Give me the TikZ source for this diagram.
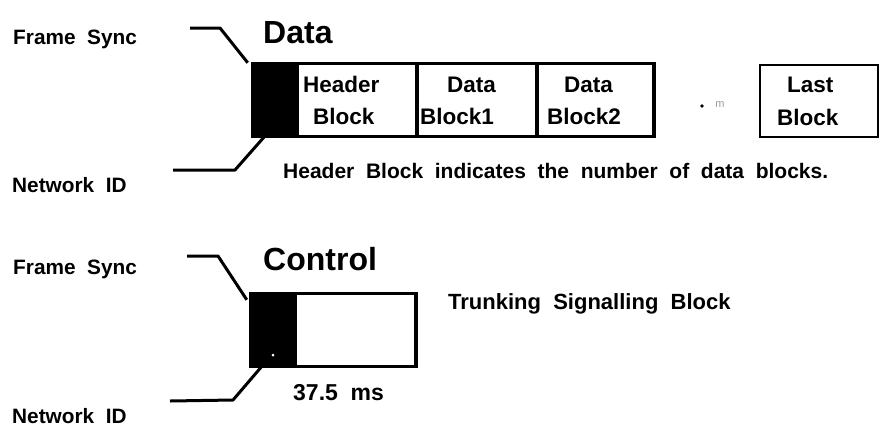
\documentclass[tikz,border=0pt]{standalone}
\usepackage{fontspec}
\setmainfont{Liberation Sans}
\begin{document}
\begin{tikzpicture}[x=1pt,y=-1pt,
  lbl/.style={anchor=base west,inner sep=0pt,font=\bfseries\fontsize{20.8}{21}\selectfont},
  celltxt/.style={anchor=base west,inner sep=0pt,font=\bfseries\fontsize{22.5}{23}\selectfont},
  notetxt/.style={anchor=base west,inner sep=0pt,font=\bfseries\fontsize{21}{21}\selectfont},
  title/.style={anchor=base west,inner sep=0pt,font=\bfseries\fontsize{32}{32}\selectfont},
  leader/.style={line width=3pt,line join=round},
  frame/.style={draw,line width=3.5pt},
  syncbox/.style={fill=black,draw=black,line width=0.5pt,inner sep=0pt}]
\useasboundingbox (0,0) rectangle (885,440);

% ---------- Data frame ----------
\node[title] (dtitle) at (263,43) {Data};
\node[lbl] (fs1) at (13,44) {Frame\ \ Sync};
\node[lbl] (nid1) at (12,192) {Network\ \ ID};

\node[syncbox,minimum width=47pt,minimum height=75pt] (sync1) at (274.5,99.5) {};
\node[frame,minimum width=120pt,minimum height=73pt,inner sep=0pt] (hdr) at (357.5,100) {};
\node[frame,minimum width=120pt,minimum height=73pt,inner sep=0pt] (blk1) at (477,100) {};
\node[frame,minimum width=117pt,minimum height=73pt,inner sep=0pt] (blk2) at (595.5,100) {};
\node[draw,line width=2pt,minimum width=118pt,minimum height=72pt,inner sep=0pt] (last) at (819,101) {};

\node[celltxt] (h1) at (303,92) {Header};
\node[celltxt] (h2) at (313,124) {Block};
\node[celltxt] (b1a) at (447,92) {Data};
\node[celltxt] (b1b) at (420,124) {Block1};
\node[celltxt] (b2a) at (564,92) {Data};
\node[celltxt] (b2b) at (547,124) {Block2};
\node[celltxt] (la) at (787,92) {Last};
\node[celltxt] (lb) at (777,125) {Block};

\fill (702,106) circle (1.8pt);
\node[inner sep=0pt,text=black!40,font=\fontsize{11}{11}\selectfont] (gap) at (720,105) {m};

\node[notetxt] (note1) at (283,178) {Header\ \ Block\ \ indicates\ \ the\ \ number\ \ of\ \ data\ \ blocks.};

\coordinate (fs1end) at (190,28);
\coordinate (nid1end) at (173,170);
\draw[leader] (fs1end) -- (220,28) -- ([xshift=-3pt,yshift=-1pt]sync1.north west);
\draw[leader] (nid1end) -- (235,170) -- ([xshift=14pt,yshift=1pt]sync1.south west);

% ---------- Control frame ----------
\node[title] (ctitle) at (263,270) {Control};
\node[lbl] (fs2) at (13,274) {Frame\ \ Sync};
\node[lbl] (nid2) at (12,423) {Network\ \ ID};

\node[syncbox,minimum width=47pt,minimum height=75pt] (sync2) at (272.5,329.5) {};
\node[frame,minimum width=121pt,minimum height=73pt,inner sep=0pt] (tsb) at (355.5,330) {};
\fill[white] (273,355) circle (1.5pt);

\node[celltxt,font=\bfseries\fontsize{23}{23}\selectfont] (dur) at (293,400) {37.5\ \ ms};
\node[notetxt,font=\bfseries\fontsize{22}{22}\selectfont] (tsbl) at (448,309) {Trunking\ \ Signalling\ \ Block};

\coordinate (fs2end) at (187,256);
\coordinate (nid2end) at (170,401);
\draw[leader] (fs2end) -- (218,256) -- ([xshift=-2pt,yshift=-8pt]sync2.north west);
\draw[leader] (nid2end) -- (233,400) -- ([xshift=14pt,yshift=2pt]sync2.south west);
\end{tikzpicture}
\end{document}
